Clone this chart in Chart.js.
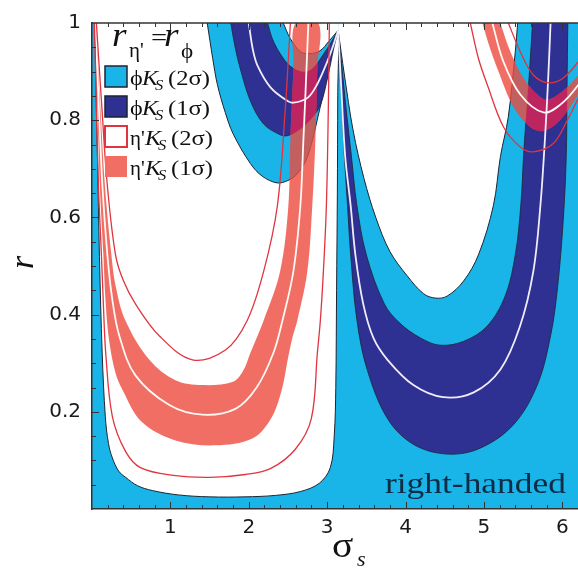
<!DOCTYPE html>
<html>
<head>
<meta charset="utf-8">
<script src="https://cdn.jsdelivr.net/npm/chart.js"></script>
<style>
  html, body { margin: 0; padding: 0; background: #fff; }
  #wrap { width: 578px; height: 569px; position: relative; }
</style>
</head>
<body>
<div id="wrap"><canvas id="rChart"></canvas></div>
<script>
// -- Data: x = sigma_s, y = r --

// phi K_S (2 sigma): edge of the white region on the left, top-left -> bottom -> cusp
const phiEdgeX = [0.04, 0.055, 0.07, 0.095, 0.13, 0.17, 0.21, 0.26, 0.34, 0.43, 0.58, 0.77, 1.1, 1.5, 1.95, 2.34, 2.66, 2.9, 3.04, 3.09, 3.11, 3.12, 3.13, 3.135, 3.14];
const phiEdgeY = [1.0, 0.83, 0.72, 0.52, 0.32, 0.19, 0.135, 0.105, 0.078, 0.065, 0.048, 0.038, 0.029, 0.025, 0.025, 0.028, 0.036, 0.053, 0.085, 0.15, 0.25, 0.45, 0.65, 0.85, 0.985];

// phi K_S, upper-left U (top-left -> bottom -> cusp)
const phiU1OuterX = [1.47, 1.54, 1.60, 1.70, 1.80, 2.02, 2.17, 2.36, 2.50, 2.62, 2.75, 2.91, 3.00, 3.07, 3.14];
const phiU1OuterY = [1.0, 0.927, 0.873, 0.816, 0.772, 0.711, 0.685, 0.671, 0.676, 0.69, 0.725, 0.826, 0.89, 0.945, 0.985];
const phiU1DarkOuterX = [1.77, 1.83, 1.89, 2.02, 2.19, 2.40, 2.49, 2.62, 2.78, 2.91, 3.01, 3.08, 3.14];
const phiU1DarkOuterY = [1.0, 0.947, 0.907, 0.840, 0.792, 0.770, 0.768, 0.778, 0.80, 0.83, 0.89, 0.945, 0.985];
const phiU1CenterX = [2.00, 2.05, 2.11, 2.28, 2.49, 2.57, 2.75, 2.87, 3.00, 3.08, 3.14];
const phiU1CenterY = [1.0, 0.947, 0.913, 0.867, 0.840, 0.836, 0.846, 0.873, 0.92, 0.955, 0.985];
const phiU1DarkInnerX = [2.24, 2.30, 2.40, 2.53, 2.70, 2.82, 2.95, 3.05, 3.14];
const phiU1DarkInnerY = [1.0, 0.968, 0.937, 0.911, 0.899, 0.907, 0.935, 0.96, 0.985];
const phiU1CapX = [2.44, 2.53, 2.66, 2.78, 2.91, 3.02, 3.14];
const phiU1CapY = [1.0, 0.968, 0.941, 0.937, 0.943, 0.962, 0.985];

// phi K_S, big U on the right (cusp -> bottom -> top-right)
const phiU2DarkOuterX = [3.14, 3.17, 3.19, 3.22, 3.26, 3.30, 3.38, 3.51, 3.77, 4.10, 4.53, 4.95, 5.38, 5.68, 5.85, 5.94, 6.01, 6.05, 6.06, 6.07];
const phiU2DarkOuterY = [0.985, 0.907, 0.826, 0.725, 0.624, 0.523, 0.388, 0.287, 0.186, 0.133, 0.113, 0.125, 0.174, 0.255, 0.356, 0.457, 0.590, 0.725, 0.867, 1.0];
const phiU2CenterX = [3.14, 3.18, 3.23, 3.30, 3.36, 3.46, 3.59, 3.77, 4.10, 4.48, 4.87, 5.21, 5.46, 5.63, 5.72, 5.78, 5.82, 5.85];
const phiU2CenterY = [0.985, 0.867, 0.725, 0.624, 0.523, 0.422, 0.352, 0.307, 0.255, 0.230, 0.240, 0.287, 0.376, 0.489, 0.624, 0.766, 0.887, 1.0];
const phiU2DarkInnerX = [3.14, 3.19, 3.24, 3.31, 3.38, 3.50, 3.73, 3.93, 4.19, 4.44, 4.74, 5.04, 5.27, 5.40, 5.47, 5.51, 5.57, 5.62];
const phiU2DarkInnerY = [0.985, 0.907, 0.826, 0.725, 0.624, 0.523, 0.422, 0.382, 0.352, 0.337, 0.345, 0.376, 0.438, 0.523, 0.624, 0.739, 0.873, 1.0];
const phiU2CapX = [3.14, 3.22, 3.33, 3.47, 3.62, 3.80, 4.02, 4.23, 4.38, 4.53, 4.74, 4.93, 5.12, 5.21, 5.31, 5.40, 5.43];
const phiU2CapY = [0.985, 0.893, 0.78, 0.68, 0.60, 0.53, 0.48, 0.443, 0.434, 0.438, 0.469, 0.523, 0.624, 0.725, 0.806, 0.941, 1.0];

// eta' K_S, big U on the left (top-left -> bottom -> top-right)
const etaU3OuterX = [0.03, 0.056, 0.082, 0.12, 0.145, 0.175, 0.26, 0.426, 0.617, 1.038, 1.51, 1.957, 2.276, 2.594, 2.798, 2.875, 2.913, 2.952, 2.99, 3.015, 3.028];
const etaU3OuterY = [1.0, 0.826, 0.665, 0.523, 0.422, 0.321, 0.19, 0.119, 0.085, 0.069, 0.065, 0.071, 0.083, 0.123, 0.186, 0.321, 0.388, 0.489, 0.624, 0.826, 1.0];
const etaU3BandLowX = [0.037, 0.069, 0.10, 0.145, 0.175, 0.22, 0.30, 0.39, 0.63, 1.064, 1.574, 2.046, 2.28, 2.42, 2.50, 2.56, 2.62, 2.747, 2.81, 2.85, 2.875, 2.888];
const etaU3BandLowY = [1.0, 0.826, 0.665, 0.523, 0.422, 0.345, 0.28, 0.245, 0.18, 0.141, 0.131, 0.145, 0.185, 0.245, 0.31, 0.355, 0.388, 0.489, 0.624, 0.76, 0.907, 1.0];
const etaU3CenterX = [0.043, 0.088, 0.133, 0.196, 0.26, 0.349, 0.554, 0.987, 1.408, 1.829, 2.10, 2.314, 2.43, 2.569, 2.658, 2.697, 2.722, 2.76];
const etaU3CenterY = [1.0, 0.826, 0.665, 0.523, 0.43, 0.356, 0.275, 0.214, 0.194, 0.206, 0.25, 0.321, 0.388, 0.489, 0.624, 0.76, 0.85, 1.0];
const etaU3BandHighX = [0.05, 0.107, 0.165, 0.247, 0.30, 0.426, 0.732, 1.064, 1.408, 1.80, 1.93, 2.02, 2.19, 2.40, 2.505, 2.53, 2.57, 2.594];
const etaU3BandHighY = [1.0, 0.826, 0.665, 0.523, 0.46, 0.388, 0.307, 0.265, 0.255, 0.262, 0.285, 0.321, 0.388, 0.489, 0.624, 0.76, 0.907, 1.0];
const etaU3InnerX = [0.056, 0.126, 0.196, 0.30, 0.40, 0.554, 0.86, 1.281, 1.702, 1.98, 2.19, 2.365, 2.467, 2.505, 2.531];
const etaU3InnerY = [1.0, 0.826, 0.665, 0.523, 0.47, 0.422, 0.356, 0.307, 0.327, 0.388, 0.489, 0.624, 0.826, 0.927, 1.0];

// eta' K_S, small U at the top right (runs off the right edge)
const etaU4OuterX = [4.826, 4.93, 5.043, 5.25, 5.464, 5.63, 5.885, 6.064, 6.205, 6.36];
const etaU4OuterY = [1.0, 0.927, 0.873, 0.786, 0.745, 0.735, 0.752, 0.80, 0.846, 0.90];
const etaU4BandLowX = [4.98, 5.08, 5.17, 5.38, 5.59, 5.76, 5.97, 6.205, 6.36];
const etaU4BandLowY = [1.0, 0.947, 0.907, 0.826, 0.786, 0.778, 0.800, 0.853, 0.897];
const etaU4CenterX = [5.107, 5.247, 5.464, 5.758, 5.975, 6.205, 6.36];
const etaU4CenterY = [1.0, 0.921, 0.853, 0.816, 0.832, 0.873, 0.917];
const etaU4BandHighX = [5.209, 5.337, 5.503, 5.681, 5.809, 6.013, 6.205, 6.36];
const etaU4BandHighY = [1.0, 0.941, 0.887, 0.853, 0.842, 0.861, 0.893, 0.931];
const etaU4InnerX = [5.311, 5.464, 5.63, 5.821, 6.013, 6.205, 6.36];
const etaU4InnerY = [1.0, 0.941, 0.893, 0.877, 0.887, 0.921, 0.958];

// axis labels and legend text
const xTickLabels = [1, 2, 3, 4, 5, 6];
const yTickLabels = [0.2, 0.4, 0.6, 0.8, 1];
const legendSymbols = ['\u03D5', '\u03D5', "\u03B7'", "\u03B7'"];
const legendTags = ['(2\u03C3)', '(1\u03C3)', '(2\u03C3)', '(1\u03C3)'];

// -- Colours --
const LIGHT_BLUE = '#19b4e8';
const DARK_BLUE = '#2e3191';
const SALMON = '#f06e64';
const SALMON_FILL = 'rgba(236,74,61,0.8)';
const OVER_DARK = '#bd2560';
const RED_LINE = '#e0343f';
const OUTLINE = '#1d2533';

// -- Helpers --
const pts = (xs, ys) => xs.map((x, i) => ({ x: x, y: ys[i] }));
const rev = arr => arr.slice().reverse();

function metaByKey(chart, key) {
    const i = chart.data.datasets.findIndex(d => d.key === key);
    return chart.getDatasetMeta(i);
}

// Traces a dataset's line as a closed shape, closing it above the plot top
function tracePolygon(chart, meta) {
    const ctx = chart.ctx;
    const line = meta.dataset;
    const points = meta.data;
    const top = chart.chartArea.top - 8;
    line.updateControlPoints(chart.chartArea, meta.iScale.axis);
    if (typeof line.path === 'function') {
        line.path(ctx);
    } else {
        points.forEach((p, i) => i === 0 ? ctx.moveTo(p.x, p.y) : ctx.lineTo(p.x, p.y));
    }
    ctx.lineTo(points[points.length - 1].x, top);
    ctx.lineTo(points[0].x, top);
    ctx.closePath();
}

// Fills each region before its outline is stroked
const regionFill = {
    id: 'regionFill',
    beforeDatasetsDraw(chart) {
        const a = chart.chartArea;
        chart.ctx.save();
        chart.ctx.fillStyle = LIGHT_BLUE; // phi 2 sigma everywhere else
        chart.ctx.fillRect(a.left, a.top, a.right - a.left, a.bottom - a.top);
        chart.ctx.restore();
    },
    beforeDatasetDraw(chart, args) {
        const ds = chart.data.datasets[args.index];
        if (!ds.areaColor) return;
        const ctx = chart.ctx;
        const a = chart.chartArea;
        ctx.save();
        ctx.beginPath();
        ctx.rect(a.left, a.top, a.right - a.left, a.bottom - a.top);
        ctx.clip();
        ctx.beginPath();
        tracePolygon(chart, args.meta);
        ctx.fillStyle = ds.areaColor;
        ctx.fill();
        // where the eta' band lies over a phi 1 sigma band
        ds.overlapWith.forEach(pair => {
            ctx.save();
            ctx.beginPath();
            tracePolygon(chart, metaByKey(chart, pair[0]));
            tracePolygon(chart, metaByKey(chart, pair[1]));
            ctx.clip('evenodd');
            ctx.beginPath();
            tracePolygon(chart, args.meta);
            ctx.fillStyle = ds.overlapColor;
            ctx.fill();
            ctx.restore();
        });
        ctx.restore();
    }
};

function drawText(ctx, str, x, y, font, sx) {
    ctx.save();
    ctx.translate(x, y);
    ctx.scale(sx, 1);
    ctx.font = font;
    ctx.fillText(str, 0, 0);
    ctx.restore();
}

// Frame, inward ticks, legend and labels
const decor = {
    id: 'decor',
    afterDatasetsDraw(chart) {
        const ctx = chart.ctx, a = chart.chartArea;
        const xs = chart.scales.x, ys = chart.scales.y;
        ctx.save();
        ctx.strokeStyle = '#333';
        ctx.lineWidth = 1.5;
        ctx.beginPath();
        ctx.moveTo(a.left, a.top);
        ctx.lineTo(a.right, a.top);
        ctx.stroke();
        ctx.lineWidth = 1;
        ctx.beginPath();
        for (let i = 1; i <= 31; i++) {
            const v = i * 0.2;
            if (v > xs.max) break;
            const px = Math.round(xs.getPixelForValue(v)) + 0.5;
            const len = i % 5 === 0 ? 7 : 4;
            ctx.moveTo(px, a.bottom); ctx.lineTo(px, a.bottom - len);
            ctx.moveTo(px, a.top); ctx.lineTo(px, a.top + len);
        }
        for (let i = 1; i < 20; i++) {
            const py = Math.round(ys.getPixelForValue(i * 0.05)) + 0.5;
            const len = i % 4 === 0 ? 7 : 4;
            ctx.moveTo(a.left, py); ctx.lineTo(a.left + len, py);
        }
        ctx.stroke();
        ctx.restore();
    },
    afterDraw(chart) {
        const ctx = chart.ctx;
        const serif = '"Liberation Serif", "Times New Roman", serif';
        ctx.save();
        ctx.fillStyle = '#111';
        ctx.textBaseline = 'alphabetic';

        // legend title
        drawText(ctx, 'r', 112, 46, 'italic 34px ' + serif, 1.1);
        drawText(ctx, "\u03B7'", 129, 57, '20px ' + serif, 1.05);
        drawText(ctx, '=', 151, 46, '26px ' + serif, 1.1);
        drawText(ctx, 'r', 164, 46, 'italic 34px ' + serif, 1.1);
        drawText(ctx, '\u03D5', 181, 58, '21px ' + serif, 1.1);

        // legend rows
        const fills = [LIGHT_BLUE, DARK_BLUE, '#ffffff', SALMON];
        const strokes = [OUTLINE, OUTLINE, RED_LINE, null];
        legendSymbols.forEach((sym, i) => {
            const top = 66 + i * 30;
            const shift = i < 2 ? 0 : 3;
            ctx.fillStyle = fills[i];
            ctx.fillRect(105, top, 22, 21);
            if (strokes[i]) {
                ctx.strokeStyle = strokes[i];
                ctx.lineWidth = i === 2 ? 2 : 1.5;
                ctx.strokeRect(105, top, 22, 21);
            }
            ctx.fillStyle = '#111';
            drawText(ctx, sym, 130, top + 19, (i < 2 ? '22px ' : '21px ') + serif, i < 2 ? 1.1 : 1.0);
            drawText(ctx, 'K', 142 + shift, top + 19, 'italic 22px ' + serif, 1.1);
            drawText(ctx, 'S', 155 + shift, top + 24, 'italic 15px ' + serif, 1.1);
            drawText(ctx, legendTags[i], 168 + shift, top + 19, '22px ' + serif, 1.12);
        });

        // region note
        ctx.fillStyle = '#0f2b45';
        drawText(ctx, 'right-handed', 385, 493, '30px ' + serif, 1.18);

        // axis titles
        ctx.fillStyle = '#111';
        drawText(ctx, '\u03C3', 332, 557, '36px ' + serif, 1.1);
        drawText(ctx, 's', 357, 566, 'italic 22px ' + serif, 1.0);
        ctx.save();
        ctx.translate(33, 269);
        ctx.rotate(-Math.PI / 2);
        ctx.font = 'italic 34px ' + serif;
        ctx.fillText('r', 0, 0);
        ctx.restore();
        ctx.restore();
    }
};

// -- Layers, painted in this order --
const layers = [
    { key: 'whiteLeft', data: pts(phiEdgeX, phiEdgeY).concat(rev(pts(phiU1OuterX, phiU1OuterY)).slice(1)), area: '#ffffff', border: OUTLINE, width: 1 },
    { key: 'u1Dark', data: pts(phiU1DarkOuterX, phiU1DarkOuterY), area: DARK_BLUE, border: OUTLINE, width: 0.8 },
    { key: 'u1Inner', data: pts(phiU1DarkInnerX, phiU1DarkInnerY), area: LIGHT_BLUE, border: OUTLINE, width: 0.8 },
    { key: 'u1Cap', data: pts(phiU1CapX, phiU1CapY), area: '#ffffff', border: OUTLINE, width: 1 },
    { key: 'u2Dark', data: pts(phiU2DarkOuterX, phiU2DarkOuterY), area: DARK_BLUE, border: OUTLINE, width: 0.8 },
    { key: 'u2Inner', data: pts(phiU2DarkInnerX, phiU2DarkInnerY), area: LIGHT_BLUE, border: OUTLINE, width: 0.8 },
    { key: 'u2Cap', data: pts(phiU2CapX, phiU2CapY), area: '#ffffff', border: OUTLINE, width: 1 },
    { key: 'u3Band', data: pts(etaU3BandHighX, etaU3BandHighY).concat(rev(pts(etaU3BandLowX, etaU3BandLowY))), area: SALMON_FILL, overlap: OVER_DARK, overlapWith: [['u1Dark', 'u1Inner'], ['u2Dark', 'u2Inner']] },
    { key: 'u4Band', data: pts(etaU4BandHighX, etaU4BandHighY).concat(rev(pts(etaU4BandLowX, etaU4BandLowY))), area: SALMON_FILL, overlap: OVER_DARK, overlapWith: [['u1Dark', 'u1Inner'], ['u2Dark', 'u2Inner']] },
    { key: 'u1Center', data: pts(phiU1CenterX, phiU1CenterY), border: '#f1ecfa', width: 1.8 },
    { key: 'u2Center', data: pts(phiU2CenterX, phiU2CenterY), border: '#f1ecfa', width: 1.8 },
    { key: 'u3Center', data: pts(etaU3CenterX, etaU3CenterY), border: '#fff8f4', width: 1.8 },
    { key: 'u4Center', data: pts(etaU4CenterX, etaU4CenterY), border: '#fff8f4', width: 1.8 },
    { key: 'u3Inner', data: pts(etaU3InnerX, etaU3InnerY), border: RED_LINE, width: 1.3 },
    { key: 'u3Outer', data: pts(etaU3OuterX, etaU3OuterY), border: RED_LINE, width: 1.3 },
    { key: 'u4Inner', data: pts(etaU4InnerX, etaU4InnerY), border: RED_LINE, width: 1.3 },
    { key: 'u4Outer', data: pts(etaU4OuterX, etaU4OuterY), border: RED_LINE, width: 1.3 }
];

// Chart.js draws the lowest order last, so the first layer gets the highest
const datasets = layers.map((l, i) => ({
    key: l.key,
    data: l.data,
    areaColor: l.area || null,
    overlapColor: l.overlap || null,
    overlapWith: l.overlapWith || [],
    borderColor: l.border || 'rgba(0,0,0,0)',
    borderWidth: l.width || 0,
    borderJoinStyle: 'round',
    order: layers.length - i,
    fill: false,
    tension: 0.35,
    pointRadius: 0,
    pointHoverRadius: 0,
    pointHitRadius: 0
}));

new Chart(document.getElementById('rChart'), {
    type: 'line',
    data: { datasets: datasets },
    plugins: [regionFill, decor],
    options: {
        responsive: true,
        maintainAspectRatio: false,
        devicePixelRatio: 1,
        animation: false,
        events: [],
        layout: { padding: { top: 14, right: 0, bottom: 0, left: 0 } },
        plugins: {
            legend: { display: false },
            tooltip: { enabled: false }
        },
        scales: {
            x: {
                type: 'linear',
                min: 0,
                max: 6.2,
                afterFit: s => { s.height = 60; },
                grid: { display: false, drawTicks: false },
                border: { display: true, color: '#333', width: 1.5, z: 1 },
                ticks: {
                    stepSize: 1,
                    includeBounds: false,
                    autoSkip: false,
                    maxRotation: 0,
                    padding: 7,
                    color: '#1a1a1a',
                    font: { family: 'DejaVu Sans', size: 20 },
                    callback: v => xTickLabels.includes(v) ? String(v) : ''
                }
            },
            y: {
                type: 'linear',
                min: 0,
                max: 1,
                afterFit: s => { s.width = 92; },
                grid: { display: false, drawTicks: false },
                border: { display: true, color: '#333', width: 1.5, z: 1 },
                ticks: {
                    stepSize: 0.2,
                    padding: 11,
                    color: '#1a1a1a',
                    font: { family: 'DejaVu Sans', size: 20 },
                    callback: v => yTickLabels.some(t => Math.abs(t - v) < 1e-9) ? String(+v.toFixed(1)) : ''
                }
            }
        }
    }
});
</script>
</body>
</html>
